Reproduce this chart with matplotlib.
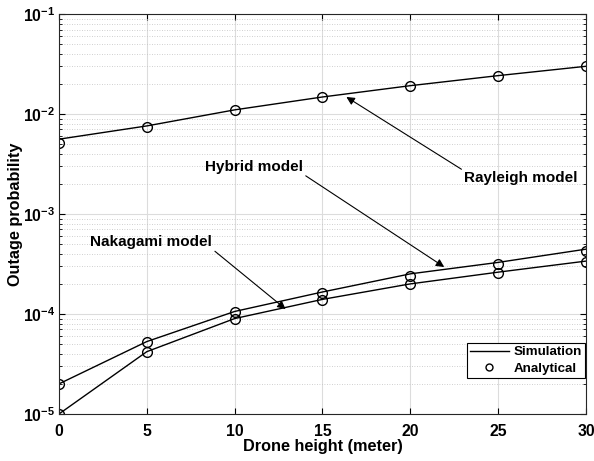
import numpy as np
import matplotlib
matplotlib.use('Agg')
import matplotlib.pyplot as plt
from matplotlib.lines import Line2D

plt.rcParams['font.family'] = ['Liberation Sans', 'DejaVu Sans']
plt.rcParams['font.weight'] = 'bold'

height = [0, 5, 10, 15, 20, 25, 30]

# simulation curves (lines)
rayleigh_sim = [5.6e-3, 7.6e-3, 1.1e-2, 1.48e-2, 1.92e-2, 2.42e-2, 3.0e-2]
hybrid_sim = [2.0e-5, 5.3e-5, 1.06e-4, 1.66e-4, 2.52e-4, 3.28e-4, 4.45e-4]
nakagami_sim = [1.0e-5, 4.2e-5, 9.0e-5, 1.40e-4, 2.0e-4, 2.62e-4, 3.38e-4]

# analytical points (circles)
rayleigh_ana = [5.13e-3, 7.4e-3, 1.1e-2, 1.47e-2, 1.92e-2, 2.4e-2, 3.0e-2]
hybrid_ana = [2.0e-5, 5.3e-5, 1.055e-4, 1.61e-4, 2.4e-4, 3.16e-4, 4.24e-4]
nakagami_ana = [1.0e-5, 4.2e-5, 8.85e-5, 1.38e-4, 1.98e-4, 2.59e-4, 3.31e-4]

fig = plt.figure(figsize=(5.94, 4.61), dpi=100)
ax = fig.add_axes([0.0993, 0.102, 0.8872, 0.8676])

for sim, ana in [(rayleigh_sim, rayleigh_ana), (hybrid_sim, hybrid_ana), (nakagami_sim, nakagami_ana)]:
    ax.plot(height, sim, '-', color='k', lw=1.0)
    ax.plot(height, ana, 'o', color='k', mfc='none', ms=7, mew=1.0)

ax.set_yscale('log')
ax.set_xlim(0, 30)
ax.set_ylim(1e-5, 1e-1)
ax.set_xticks([0, 5, 10, 15, 20, 25, 30])
ax.set_yticks([1e-5, 1e-4, 1e-3, 1e-2, 1e-1])
ax.grid(True, which='major', color='#dcdcdc', lw=0.8, ls='-')
ax.grid(True, which='minor', axis='y', color='#c0c0c0', lw=0.6, ls=(0, (1, 2)))
ax.tick_params(which='both', direction='in', top=True, right=True, labelsize=11.3)
ax.tick_params(axis='x', pad=7)
ax.tick_params(axis='y', pad=3)
ax.tick_params(which='major', length=4)
ax.tick_params(which='minor', length=2.5)
for lab in ax.get_xticklabels() + ax.get_yticklabels():
    lab.set_fontweight('bold')
for s in ax.spines.values():
    s.set_color('#262626')
    s.set_linewidth(0.8)

ax.set_xlabel('Drone height (meter)', fontsize=11.7, fontweight='bold', labelpad=0)
ax.set_ylabel('Outage probability', fontsize=11.7, fontweight='bold', labelpad=0)

aprops = dict(arrowstyle='-|>', color='k', lw=0.8, mutation_scale=12, shrinkA=0, shrinkB=0)
ax.annotate('Rayleigh model', xy=(16.36, 1.48e-2), xytext=(26.3, 10**-2.64),
            ha='center', va='center', fontsize=11, fontweight='bold',
            arrowprops=dict(aprops, relpos=(0.0, 1.0)))
ax.annotate('Hybrid model', xy=(21.93, 2.95e-4), xytext=(11.1, 10**-2.53),
            ha='center', va='center', fontsize=11, fontweight='bold',
            arrowprops=dict(aprops, relpos=(1.0, 0.0)))
ax.annotate('Nakagami model', xy=(12.9, 1.12e-4), xytext=(5.25, 10**-3.28),
            ha='center', va='center', fontsize=11, fontweight='bold',
            arrowprops=dict(aprops, relpos=(1.0, 0.0)))

legend_elements = [Line2D([0], [0], color='k', lw=1.0, label='Simulation'),
                   Line2D([0], [0], marker='o', color='k', ls='none', mfc='none', ms=5, label='Analytical')]
leg = ax.legend(handles=legend_elements, loc='lower right', bbox_to_anchor=(0.998, 0.09),
                borderaxespad=0, fancybox=False, framealpha=1, edgecolor='k', fontsize=9.6,
                handlelength=2.9, borderpad=0.25, labelspacing=0.3, handletextpad=0.35)
leg.get_frame().set_linewidth(0.8)
for t in leg.get_texts():
    t.set_fontweight('bold')

fig.savefig('out.png', dpi=100)
